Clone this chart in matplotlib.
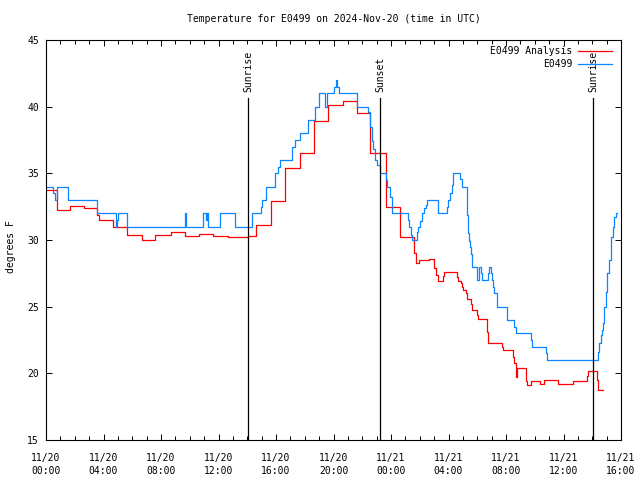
import matplotlib
matplotlib.use('Agg')
import matplotlib.pyplot as plt
from matplotlib.ticker import MultipleLocator, FuncFormatter

plt.rcParams['font.family'] = ['DejaVu Sans Mono']
plt.rcParams['font.size'] = 7

# hours since 2024-11-20 00:00 UTC
obs_t = [0.0, 0.51, 0.60, 0.79, 1.55, 3.53, 4.87, 4.94, 4.98, 5.61, 9.67, 9.74,
         10.94, 11.16, 11.23, 11.30, 12.08, 12.12, 13.15, 14.31, 14.93, 15.05,
         15.30, 15.93, 16.16, 16.28, 17.09, 17.35, 17.67, 18.25, 18.71, 19.00,
         19.38, 19.55, 20.03, 20.17, 20.26, 20.36, 21.61, 22.42, 22.54, 22.66,
         22.77, 22.89, 23.05, 23.23, 23.65, 23.74, 23.93, 24.09, 25.16, 25.27,
         25.36, 25.44, 25.79, 25.90, 26.02, 26.18, 26.30, 26.43, 26.53, 27.25,
         27.87, 27.99, 28.10, 28.22, 28.29, 28.33, 28.80, 28.92, 29.27, 29.31,
         29.38, 29.45, 29.49, 29.57, 29.61, 29.66, 30.00, 30.14, 30.24, 30.31,
         30.77, 30.84, 30.93, 31.00, 31.07, 31.17, 31.40, 32.05, 32.10, 32.56,
         32.70, 33.72, 33.79, 34.78, 34.87, 38.42, 38.49, 38.59, 38.68, 38.78,
         38.84, 38.93, 39.05, 39.19, 39.33, 39.42, 39.54, 39.65, 39.74]
obs_v = [34, 33.5, 33, 34, 33, 32, 31, 31.5, 32, 31, 32, 31,
         32, 31.5, 32, 31, 31.5, 32, 31, 32, 32.5, 33,
         34, 35, 35.5, 36, 37, 37.5, 38, 39, 40, 41,
         40, 41, 41.5, 42, 41.5, 41, 40, 39.6, 38.5, 37.4,
         36.8, 36, 35.6, 35, 34.5, 34, 33.2, 32, 31.5, 31,
         30.4, 30, 30.6, 31, 31.4, 32, 32.4, 32.6, 33, 32,
         32.5, 33, 33.5, 34.1, 34.6, 35, 34.6, 34, 33.3, 31.9,
         30.5, 29.9, 29.45, 28.95, 28.5, 28, 27, 28, 27.5, 27,
         27.5, 28, 27.5, 27, 26.5, 26, 25, 24.5, 24, 23.5,
         23, 22.5, 22, 21.5, 21, 21.6, 22.25, 22.9, 23.25, 23.75,
         25, 26.1, 27.5, 28.5, 30.25, 31, 31.75, 32.05, 32.05]

ana_t = [0.0, 0.74, 1.67, 2.66, 3.57, 3.71, 4.64, 5.66, 6.66, 7.58, 8.67, 9.67,
         10.66, 11.64, 12.68, 14.07, 14.61, 15.63, 16.63, 17.67, 18.64, 19.64,
         20.68, 21.61, 22.54, 23.65, 24.66, 25.62, 25.72, 25.97, 26.67, 26.99,
         27.13, 27.29, 27.60, 27.69, 28.62, 28.69, 28.85, 28.94, 29.03, 29.22,
         29.31, 29.54, 29.66, 30.00, 30.07, 30.70, 30.77, 31.70, 31.81, 32.51,
         32.58, 32.67, 32.77, 33.39, 33.44, 33.72, 34.37, 34.64, 35.64, 36.64,
         37.61, 37.72, 38.34, 38.38, 38.73]
ana_v = [33.75, 32.25, 32.55, 32.4, 31.9, 31.5, 30.95, 30.4, 30.0, 30.4, 30.63, 30.3,
         30.45, 30.3, 30.2, 30.3, 31.1, 32.9, 35.4, 36.5, 38.9, 40.1,
         40.4, 39.5, 36.5, 32.5, 30.25, 29.0, 28.25, 28.5, 28.6, 27.9,
         27.4, 26.9, 27.3, 27.6, 27.25, 26.95, 26.75, 26.5, 26.25, 26.0,
         25.6, 25.2, 24.75, 24.4, 24.05, 23.1, 22.25, 21.95, 21.75, 21.25,
         20.75, 19.7, 20.4, 19.45, 19.1, 19.45, 19.2, 19.5, 19.2, 19.45,
         19.8, 20.2, 19.5, 18.75, 18.75]

sun_t = [14.05, 23.23, 38.07]
sun_lbl = ['Sunrise', 'Sunset', 'Sunrise']

fig = plt.figure(figsize=(6.4, 4.8), dpi=100)
ax = fig.add_axes([46/640, 40/480, 575/640, 400/480])

ax.step(ana_t, ana_v, where='post', color='#ff0000', lw=0.9, label='E0499 Analysis')
ax.step(obs_t, obs_v, where='post', color='#0a84ff', lw=0.9, label='E0499')

for t, s in zip(sun_t, sun_lbl):
    ax.axvline(t, ymin=0, ymax=0.855, color='black', lw=0.9)
    ax.text(t, 0.87, s, rotation=90, ha='center', va='bottom',
            transform=ax.get_xaxis_transform())

ax.set_xlim(0, 40)
ax.set_ylim(15, 45)
ax.xaxis.set_major_locator(MultipleLocator(4))
ax.xaxis.set_minor_locator(MultipleLocator(1))
ax.yaxis.set_major_locator(MultipleLocator(5))
ax.xaxis.set_major_formatter(FuncFormatter(
    lambda h, p: '11/%d\n%02d:00' % (20 + int(h) // 24, int(h) % 24)))
ax.tick_params(which='both', direction='in', top=True, right=True, width=0.7)
ax.tick_params(which='major', length=4.5)
ax.tick_params(which='minor', length=3)
ax.tick_params(axis='x', pad=9)
ax.tick_params(axis='y', pad=5)
for lab in ax.get_xticklabels():
    lab.set_linespacing(1.4)
for sp in ax.spines.values():
    sp.set_linewidth(0.8)

fig.text(0.522, 1 - 19/480, 'Temperature for E0499 on 2024-Nov-20 (time in UTC)',
         ha='center', va='center')
fig.text(11/640, 1 - 247/480, 'degrees F', rotation=90, ha='center', va='center')

ax.legend(loc='upper right', bbox_to_anchor=(612/640, 1 - 46/480),
          bbox_transform=fig.transFigure, frameon=False, markerfirst=False,
          borderpad=0, borderaxespad=0, handlelength=3.5, handletextpad=0.6,
          labelspacing=0.35)

fig.savefig('out.png', dpi=100)
